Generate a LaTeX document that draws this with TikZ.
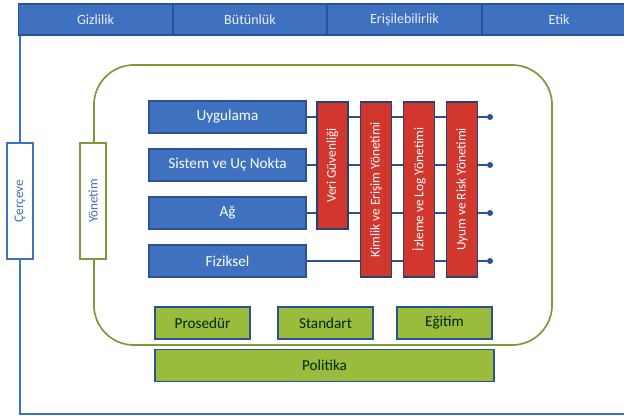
\documentclass[tikz,border=0pt]{standalone}
\usepackage{fontspec}
\usepackage{graphicx}
\setmainfont{Carlito}
\usetikzlibrary{positioning}
\definecolor{hdrblue}{HTML}{3E72C0}
\definecolor{edgeblue}{HTML}{2A5396}
\definecolor{frameblue}{HTML}{3C72C8}
\definecolor{riskred}{HTML}{D2372E}
\definecolor{polgreen}{HTML}{9ABB3C}
\definecolor{olive}{HTML}{7D9A38}
\definecolor{vtext}{HTML}{3F6FB8}

\begin{document}
\begin{tikzpicture}[x=0.025cm,y=-0.025cm,
	hdr/.style={draw=edgeblue,fill=hdrblue,line width=0.8pt,text=white!92!blue,font=\fontsize{10}{12}\selectfont,minimum width=3.83cm,minimum height=0.775cm},
	layer/.style={draw=edgeblue,fill=hdrblue,line width=0.8pt,text=white,font=\fontsize{10.8}{13}\selectfont,minimum width=3.925cm,minimum height=0.8cm},
	riskbox/.style={draw=edgeblue!80!black,fill=riskred,line width=0.8pt,text=white,rotate=90,font=\fontsize{9.5}{11}\selectfont,minimum height=0.775cm},
	policy/.style={draw=edgeblue,fill=polgreen,line width=1pt,text=black!85!green,font=\fontsize{10.8}{13}\selectfont,minimum width=2.375cm,minimum height=0.8cm},
	vbox/.style={fill=white,line width=1pt,font=\fontsize{9.4}{11}\selectfont,text=vtext,minimum height=2.9cm,minimum width=0.65cm,inner sep=0pt},
	dot/.style={circle,fill=edgeblue,inner sep=0pt,minimum size=0.15cm}]
	\clip (0,0) rectangle (624,419);
	\fill[white] (0,0) rectangle (624,419);
	
	\foreach \t [count=\n] in {Gizlilik,Bütünlük,Erişilebilirlik,Etik}
		\node[hdr] (H\n) at (\n*154.5-59,19.5) {\t};
	
	\node[vbox,draw=frameblue] (Cf) at (20,201) {\rotatebox{90}{Çerçeve}};
	\coordinate (fr) at (630,414);
	\draw[frameblue,line width=1pt] (Cf.north) -- (Cf.north |- H1.south);
	\draw[frameblue,line width=1pt] (Cf.south) |- (fr);
	
	\node[draw=olive,line width=1.2pt,rounded corners=1cm,minimum width=11.45cm,minimum height=7cm] (Gov) at (323,205) {};
	\node[vbox,draw=olive] (Yon) at (Gov.west |- Cf) {\rotatebox{90}{Yönetim}};
	
	\foreach \t/\y [count=\n] in {Uygulama/117,Sistem ve Uç Nokta/165,Ağ/213,Fiziksel/261}{
		\node[layer] (L\n) at (227.5,\y) {\t};
		\node[dot] (D\n) at (490,\y) {};
		\draw[edgeblue,line width=0.8pt] (L\n.east) -- (D\n);
	}
	
	\node[riskbox,minimum width=3.175cm] (R1) at (332.5,165.5) {Veri Güvenliği};
	\foreach \t [count=\n from 2] in {Kimlik ve Erişim Yönetimi,İzleme ve Log Yönetimi,Uyum ve Risk Yönetimi}
		\node[riskbox,minimum width=4.375cm] (R\n) at (\n*43+290,189.5) {\t};
	
	\foreach \t/\x [count=\n] in {Prosedür/202.5,Standart/325.5,Eğitim/444.5}
		\node[policy] (P\n) at (\x,323) {\t};
	\node[policy,minimum width=8.475cm] (Pol) at (324.5,365.5) {Politika};
\end{tikzpicture}
\end{document}
